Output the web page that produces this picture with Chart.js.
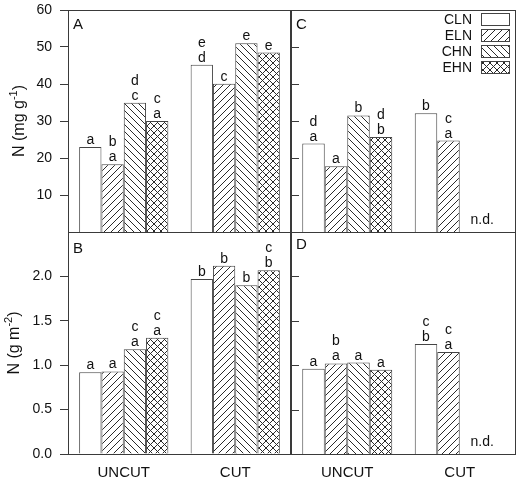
<!DOCTYPE html>
<html>
<head>
<meta charset="utf-8">
<script src="https://cdn.jsdelivr.net/npm/chart.js@4.4.0/dist/chart.umd.min.js"></script>
<style>
  html, body { margin: 0; padding: 0; background: #fff; }
  #wrap { position: relative; width: 518px; height: 482px; }
  #wrap canvas { position: absolute; left: 0; top: 0; }
</style>
</head>
<body>
<div id="wrap">
  <canvas id="panelA" width="518" height="482"></canvas>
  <canvas id="panelB" width="518" height="482"></canvas>
  <canvas id="panelC" width="518" height="482"></canvas>
  <canvas id="panelD" width="518" height="482"></canvas>
</div>
<script>
const groups = ['UNCUT', 'CUT'];
const treatments = ['CLN', 'ELN', 'CHN', 'EHN'];

// values per group in treatment order, null = n.d.
const concUncutA = [23.0, 18.3, 34.9, 30.0];
const concCutA = [45.2, 40.1, 51.0, 48.5];
const poolUncutB = [0.92, 0.93, 1.18, 1.31];
const poolCutB = [1.97, 2.12, 1.90, 2.07];
const concUncutC = [23.9, 17.8, 31.5, 25.7];
const concCutC = [32.1, 24.7, null, null];
const poolUncutD = [0.96, 1.02, 1.03, 0.95];
const poolCutD = [1.24, 1.15, null, null];

// letters above each bar, top line first
const lettersA = [[['a'], ['b', 'a'], ['d', 'c'], ['c', 'a']], [['e', 'd'], ['c'], ['e'], ['e']]];
const lettersB = [[['a'], ['a'], ['c', 'a'], ['c', 'a']], [['b'], ['b'], ['b'], ['c', 'b']]];
const lettersC = [[['d', 'a'], ['a'], ['b'], ['d', 'b']], [['b'], ['c', 'a'], [], []]];
const lettersD = [[['a'], ['b', 'a'], ['a'], ['a']], [['c', 'b'], ['c', 'a'], [], []]];

const concTicks = [10, 20, 30, 40, 50, 60];
const poolTicks = [0, 0.5, 1.0, 1.5, 2.0];

const FONT = '"Liberation Sans", Arial, Helvetica, sans-serif';
const LINE = '#3a3a3a';
Chart.defaults.font.family = FONT;
Chart.defaults.color = '#111';

function makePattern(kind) {
  const s = 7;
  const c = document.createElement('canvas');
  c.width = s; c.height = s;
  const g = c.getContext('2d');
  g.fillStyle = '#fff';
  g.fillRect(0, 0, s, s);
  g.strokeStyle = '#2a2a2a';
  g.lineWidth = 1;
  g.beginPath();
  for (const k of [-s, 0, s]) {
    if (kind === 'fwd' || kind === 'cross') { g.moveTo(k, s); g.lineTo(k + s, 0); }
    if (kind === 'back' || kind === 'cross') { g.moveTo(k, 0); g.lineTo(k + s, s); }
  }
  g.stroke();
  return g.createPattern(c, 'repeat');
}

const fills = ['#fff', makePattern('fwd'), makePattern('back'), makePattern('cross')];

function buildDatasets(uncut, cut) {
  return treatments.map((t, i) => ({
    label: t,
    data: [uncut[i], cut[i]],
    backgroundColor: fills[i],
    borderColor: '#444',
    borderWidth: 1,
    barPercentage: 1.0,
    categoryPercentage: 0.8
  }));
}

const decor = {
  id: 'decor',
  afterDatasetsDraw(chart, args, opts) {
    const { ctx, chartArea: a, scales } = chart;
    ctx.save();
    // frame
    ctx.strokeStyle = LINE;
    ctx.lineWidth = 1;
    ctx.strokeRect(a.left + 0.5, a.top + 0.5, a.right - a.left - 1, a.bottom - a.top);

    // inner ticks for right-hand panels
    if (opts.innerTicks) {
      ctx.beginPath();
      opts.innerTicks.forEach(v => {
        const y = Math.round(scales.y.getPixelForValue(v)) + 0.5;
        ctx.moveTo(a.left, y);
        ctx.lineTo(a.left + 8, y);
      });
      ctx.stroke();
    }

    // letters over bars
    ctx.fillStyle = '#111';
    ctx.font = '14px ' + FONT;
    ctx.textAlign = 'center';
    ctx.textBaseline = 'alphabetic';
    chart.data.datasets.forEach((ds, i) => {
      const meta = chart.getDatasetMeta(i);
      meta.data.forEach((bar, j) => {
        if (ds.data[j] == null) return;
        const lines = opts.letters[j][i].slice().reverse();
        lines.forEach((t, k) => ctx.fillText(t, bar.x, bar.y - 3 - k * 15));
      });
    });

    // panel letter
    ctx.textAlign = 'left';
    ctx.font = '15px ' + FONT;
    ctx.fillText(opts.tag, a.left + 5, a.top + opts.tagDy);

    // n.d. note
    if (opts.nd) {
      const x0 = scales.x.getPixelForValue(0), x1 = scales.x.getPixelForValue(1);
      const bw = (x1 - x0) * 0.8 / 4;
      ctx.textAlign = 'center';
      ctx.font = '14px ' + FONT;
      ctx.fillText('n.d.', x1 + bw, a.bottom - 8);
    }

    // legend
    if (opts.legend) {
      chart.data.datasets.forEach((ds, i) => {
        const yc = a.top + 9 + i * 16;
        ctx.fillStyle = ds.backgroundColor;
        ctx.fillRect(481, yc - 6, 29, 12);
        ctx.strokeStyle = '#444';
        ctx.strokeRect(481.5, yc - 5.5, 28, 12);
        ctx.fillStyle = '#111';
        ctx.textAlign = 'right';
        ctx.textBaseline = 'middle';
        ctx.font = '14px ' + FONT;
        ctx.fillText(ds.label, 472, yc + 1);
      });
      ctx.textBaseline = 'alphabetic';
    }

    // y axis title with superscript
    if (opts.yTitle) {
      const [main, sup, tail] = opts.yTitle;
      ctx.save();
      ctx.translate(opts.titleX, (a.top + a.bottom) / 2);
      ctx.rotate(-Math.PI / 2);
      ctx.fillStyle = '#111';
      ctx.textBaseline = 'middle';
      ctx.textAlign = 'left';
      ctx.font = '16px ' + FONT;
      const w1 = ctx.measureText(main).width;
      const w3 = ctx.measureText(tail).width;
      ctx.font = '11px ' + FONT;
      const w2 = ctx.measureText(sup).width;
      let x = -(w1 + w2 + w3) / 2;
      ctx.font = '16px ' + FONT;
      ctx.fillText(main, x, 0);
      x += w1;
      ctx.font = '11px ' + FONT;
      ctx.fillText(sup, x, -6);
      x += w2;
      ctx.font = '16px ' + FONT;
      ctx.fillText(tail, x, 0);
      ctx.restore();
    }
    ctx.restore();
  }
};

function makePanel(id, cfg) {
  const yScale = {
    min: 0,
    max: cfg.max,
    display: cfg.showY,
    afterBuildTicks: s => { s.ticks = cfg.ticks.map(v => ({ value: v })); },
    grid: { drawOnChartArea: false, drawTicks: true, tickLength: 8, color: LINE },
    border: { display: false },
    ticks: {
      padding: 8,
      color: '#111',
      font: { size: 14 },
      callback: v => cfg.fmt(v)
    }
  };
  if (cfg.showY) yScale.afterFit = s => { s.width = 68; s.paddingTop = 0; s.paddingBottom = 0; };
  const xScale = {
    display: cfg.showX,
    grid: { display: false },
    border: { display: false },
    ticks: { padding: 2, color: '#111', font: { size: 15 } }
  };
  if (cfg.showX) xScale.afterFit = s => { s.height = 28; s.paddingLeft = 0; s.paddingRight = 0; };
  return new Chart(document.getElementById(id), {
    type: 'bar',
    data: { labels: groups, datasets: buildDatasets(cfg.uncut, cfg.cut) },
    options: {
      responsive: false,
      animation: false,
      events: [],
      layout: { padding: cfg.padding },
      scales: { x: xScale, y: yScale },
      plugins: {
        legend: { display: false },
        tooltip: { enabled: false },
        decor: cfg.decor
      }
    },
    plugins: [decor]
  });
}

const fmtInt = v => String(v);
const fmtOne = v => Number(v).toFixed(1);

makePanel('panelA', {
  uncut: concUncutA, cut: concCutA, max: 60, ticks: concTicks, fmt: fmtInt,
  showY: true, showX: false,
  padding: { left: 0, right: 227, top: 10, bottom: 250 },
  decor: { letters: lettersA, tag: 'A', tagDy: 19, yTitle: ['N (mg g', '-1', ')'], titleX: 20 }
});
makePanel('panelB', {
  uncut: poolUncutB, cut: poolCutB, max: 2.5, ticks: poolTicks, fmt: fmtOne,
  showY: true, showX: true,
  padding: { left: 0, right: 227, top: 232, bottom: 0 },
  decor: { letters: lettersB, tag: 'B', tagDy: 21, yTitle: ['N (g m', '-2', ')'], titleX: 15 }
});
makePanel('panelC', {
  uncut: concUncutC, cut: concCutC, max: 60, ticks: concTicks, fmt: fmtInt,
  showY: false, showX: false,
  padding: { left: 291, right: 2, top: 10, bottom: 250 },
  decor: { letters: lettersC, tag: 'C', tagDy: 19, innerTicks: [10, 20, 30, 40, 50], nd: true, legend: true }
});
makePanel('panelD', {
  uncut: poolUncutD, cut: poolCutD, max: 2.5, ticks: poolTicks, fmt: fmtOne,
  showY: false, showX: true,
  padding: { left: 291, right: 2, top: 232, bottom: 0 },
  decor: { letters: lettersD, tag: 'D', tagDy: 17, innerTicks: [0.5, 1.0, 1.5, 2.0], nd: true }
});
</script>
</body>
</html>
